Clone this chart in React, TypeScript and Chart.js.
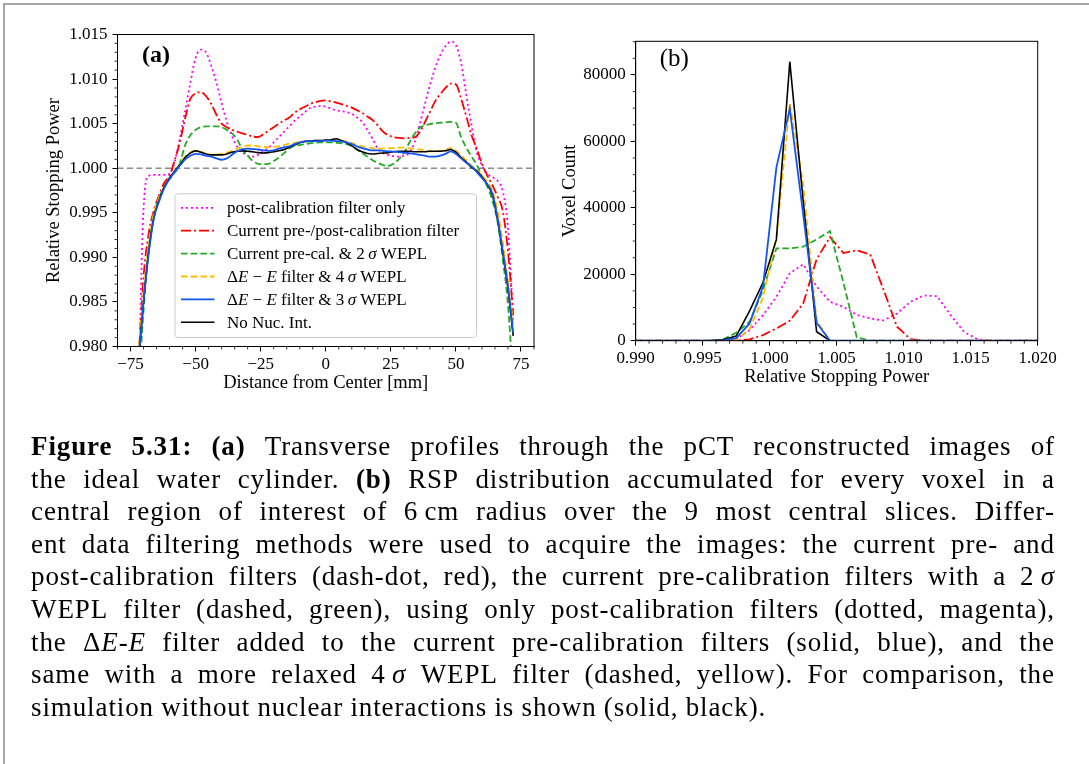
import React, { useEffect, useRef } from 'react';
import { Chart, registerables } from 'chart.js';

Chart.register(...registerables);

const SERIF = '"Liberation Serif", "Times New Roman", serif';
const CAPTION_FONT = '"Liberation Serif", "Times New Roman", serif';

// ---------- Panel (a): transverse RSP profiles ----------
const profileX = [
  -72, -70, -68, -66, -64, -62, -60, -58, -56, -54,
  -52, -50, -48, -46, -44, -42, -40, -38, -36, -34,
  -32, -30, -28, -26, -24, -22, -20, -18, -16, -14,
  -12, -10, -8, -6, -4, -2, 0, 2, 4, 6,
  8, 10, 12, 14, 16, 18, 20, 22, 24, 26,
  28, 30, 32, 34, 36, 38, 40, 42, 44, 46,
  48, 50, 52, 54, 56, 58, 60, 62, 64, 66,
  68, 70, 72,
];

const profilePostCalOnly = [
  0.974, 0.9955, 0.99915, 0.99925, 0.99925, 0.99925, 0.9994, 1.0008, 1.0034, 1.0065,
  1.0096, 1.0124, 1.0133, 1.013, 1.0115, 1.0096, 1.0073, 1.0052, 1.0036, 1.0024,
  1.0018, 1.0014, 1.0013, 1.0015, 1.0019, 1.0023, 1.0029, 1.0035, 1.0041, 1.0047,
  1.0053, 1.0058, 1.0063, 1.00675, 1.0069, 1.007, 1.0069, 1.0067, 1.0065, 1.0064,
  1.0063, 1.0061, 1.0057, 1.0052, 1.0043, 1.0033, 1.0022, 1.0017, 1.0015, 1.00135,
  1.0013, 1.0014, 1.0017, 1.0028, 1.0048, 1.0071, 1.0093, 1.0112, 1.0127, 1.0137,
  1.0142, 1.0138, 1.0118, 1.0082, 1.0048, 1.0018, 1.0003, 0.9994, 0.999, 0.9986,
  0.9974, 0.9934, 0.983,
];

const profilePrePostCal = [
  0.978, 0.9878, 0.9927, 0.9953, 0.997, 0.9984, 0.9992, 1.0009, 1.003, 1.0056,
  1.0078, 1.0084, 1.00855, 1.0081, 1.0072, 1.006, 1.005, 1.0046, 1.0043, 1.0041,
  1.0039, 1.00375, 1.00355, 1.0035, 1.0038, 1.0042, 1.0046, 1.005, 1.00535, 1.0057,
  1.0062, 1.0066, 1.0069, 1.0072, 1.0074, 1.00755, 1.0076, 1.0075, 1.00735, 1.0072,
  1.007, 1.0068, 1.0065, 1.0062, 1.0058, 1.0054, 1.0048, 1.0041, 1.0037, 1.0035,
  1.0034, 1.00335, 1.0034, 1.00345, 1.004, 1.0051, 1.0063, 1.0075, 1.0083, 1.009,
  1.0095, 1.0094, 1.0078, 1.0058, 1.0037, 1.0022, 1.0005, 0.9992, 0.9981, 0.9968,
  0.9952, 0.9907, 0.9835,
];

const profilePreCal2Sigma = [
  0.975, 0.984, 0.991, 0.9947, 0.9967, 0.9979, 0.9988, 0.9995, 1.0006, 1.0026,
  1.0037, 1.0043, 1.0046, 1.0047, 1.0047, 1.0047, 1.0046, 1.0043, 1.0039, 1.0032,
  1.0021, 1.0014, 1.0008, 1.0005, 1.00045, 1.0005, 1.0008, 1.0012, 1.0017, 1.0022,
  1.0025, 1.0026, 1.0027, 1.0028, 1.00285, 1.0029, 1.0029, 1.0029, 1.00285, 1.0028,
  1.0027, 1.0025, 1.0021, 1.0017, 1.0013, 1.0009, 1.0006, 1.00035, 1.00025, 1.0005,
  1.001, 1.0017, 1.0028, 1.0038, 1.0045, 1.0048, 1.00495, 1.00505, 1.0051, 1.00515,
  1.0052, 1.0051, 1.0035, 1.0023, 1.0013, 1.0004, 0.9991, 0.998, 0.9964, 0.994,
  0.9898, 0.9847, 0.976,
];

const profileDeltaE4Sigma = [
  0.979, 0.986, 0.9915, 0.995, 0.9967, 0.998, 0.9989, 0.9996, 1.0005, 1.0013,
  1.0018, 1.00195, 1.00185, 1.00165, 1.0015, 1.00155, 1.0016, 1.00175, 1.00195, 1.0022,
  1.0024, 1.00255, 1.00255, 1.00245, 1.0024, 1.00235, 1.0024, 1.00245, 1.0026, 1.00275,
  1.00285, 1.00295, 1.003, 1.00305, 1.0031, 1.0031, 1.0031, 1.00315, 1.0032, 1.0031,
  1.003, 1.00285, 1.0026, 1.00245, 1.00235, 1.00225, 1.0022, 1.0022, 1.00225, 1.00225,
  1.0023, 1.0023, 1.00225, 1.00215, 1.0021, 1.002, 1.0019, 1.0019, 1.00195, 1.00205,
  1.00225, 1.002, 1.0014, 1.0009, 1.0003, 0.9998, 0.9992, 0.9985, 0.9975, 0.9952,
  0.9917, 0.9874, 0.9825,
];

const profileDeltaE3Sigma = [
  0.978, 0.985, 0.9905, 0.9944, 0.9963, 0.9978, 0.9988, 0.9996, 1.0003, 1.001,
  1.0014, 1.0016, 1.00155, 1.0014, 1.0013, 1.0011, 1.00095, 1.0011, 1.0015, 1.0019,
  1.0021, 1.0022, 1.00215, 1.0021, 1.002, 1.00195, 1.002, 1.0022, 1.00235, 1.00245,
  1.0027, 1.0029, 1.003, 1.00305, 1.00305, 1.00305, 1.0031, 1.0031, 1.00305, 1.003,
  1.0029, 1.0027, 1.00245, 1.00225, 1.0021, 1.002, 1.002, 1.00195, 1.0019, 1.00185,
  1.0018, 1.00175, 1.0017, 1.0016, 1.0015, 1.0014, 1.0013, 1.0013, 1.0014, 1.0016,
  1.0019, 1.0016, 1.0011, 1.0006, 1.0002, 0.9996, 0.9989, 0.9982, 0.9972, 0.9944,
  0.9907, 0.9867, 0.9815,
];

const profileNoNuc = [
  0.978, 0.985, 0.9907, 0.9945, 0.9964, 0.9979, 0.9989, 0.9997, 1.0004, 1.0012,
  1.0017, 1.00195, 1.0018, 1.0016, 1.0015, 1.0015, 1.0015, 1.0016, 1.0018, 1.0019,
  1.00195, 1.0019, 1.00185, 1.00175, 1.0017, 1.00175, 1.00185, 1.00195, 1.0021, 1.00235,
  1.0026, 1.00285, 1.003, 1.00305, 1.0031, 1.0031, 1.00315, 1.0032, 1.0033, 1.0031,
  1.00285, 1.0025, 1.0021, 1.00185, 1.00165, 1.0016, 1.00165, 1.0017, 1.00175, 1.00185,
  1.0019, 1.0019, 1.0019, 1.00185, 1.00185, 1.00185, 1.0019, 1.0019, 1.0019, 1.00195,
  1.0021, 1.0018, 1.0012, 1.0007, 1.0001, 0.9997, 0.999, 0.9982, 0.997, 0.9942,
  0.9905, 0.9865, 0.9812,
];

const profileXTicks = [-75, -50, -25, 0, 25, 50, 75];
const profileYTicks = [0.98, 0.985, 0.99, 0.995, 1.0, 1.005, 1.01, 1.015];
const profileReference = 1.0;

// ---------- Panel (b): RSP histograms ----------
const rspBins = [
  0.99, 0.9905, 0.9915, 0.9925, 0.9935, 0.9945, 0.9955, 0.9965, 0.9975, 0.9985,
  0.9995, 1.0005, 1.0015, 1.0025, 1.0035, 1.0045, 1.0055, 1.0065, 1.0075, 1.0085,
  1.0095, 1.0105, 1.0115, 1.0125, 1.0135, 1.0145, 1.0155, 1.0165, 1.0175, 1.0185,
  1.0195, 1.02,
];

const countsPostCalOnly = [
  0, 0, 0, 0, 0, 0, 0, 0, 400, 3200,
  7700, 13200, 20300, 23000, 16300, 11700, 10200, 7800, 6700, 6100,
  8200, 11700, 13600, 13400, 7700, 2700, 400, 0, 0, 0,
  0, 0,
];

const countsPrePostCal = [
  0, 0, 0, 0, 0, 0, 0, 0, 0, 400,
  1700, 3700, 6000, 11200, 24500, 31200, 26400, 27200, 26000, 15300,
  4200, 500, 0, 0, 0, 0, 0, 0, 0, 0,
  0, 0,
];

const countsPreCal2Sigma = [
  0, 0, 0, 0, 0, 0, 0, 300, 2400, 5700,
  15300, 27800, 27800, 28300, 30500, 33000, 17500, 1000, 0, 0,
  0, 0, 0, 0, 0, 0, 0, 0, 0, 0,
  0, 0,
];

const countsDeltaE4Sigma = [
  0, 0, 0, 0, 0, 0, 0, 0, 200, 3500,
  13000, 31000, 71500, 47000, 6000, 0, 0, 0, 0, 0,
  0, 0, 0, 0, 0, 0, 0, 0, 0, 0,
  0, 0,
];

const countsDeltaE3Sigma = [
  0, 0, 0, 0, 0, 0, 0, 100, 800, 5200,
  16300, 52200, 69800, 38000, 5400, 0, 0, 0, 0, 0,
  0, 0, 0, 0, 0, 0, 0, 0, 0, 0,
  0, 0,
];

const countsNoNuc = [
  0, 0, 0, 0, 0, 0, 0, 300, 1400, 9000,
  17500, 30500, 84000, 42000, 2700, 0, 0, 0, 0, 0,
  0, 0, 0, 0, 0, 0, 0, 0, 0, 0,
  0, 0,
];

const histXTicks = [0.99, 0.995, 1.0, 1.005, 1.01, 1.015, 1.02];
const histYTicks = [0, 20000, 40000, 60000, 80000];

// ---------- Series appearance and legend ----------
type Seg = { t: string; i?: boolean };
type SeriesStyle = { color: string; dash: number[]; width: number; order: number; label: Seg[] };

const seriesStyles: SeriesStyle[] = [
  { color: '#ff00ff', dash: [2, 3], width: 1.8, order: 5, label: [{ t: 'post-calibration filter only' }] },
  { color: '#ff0000', dash: [10, 3, 2, 3], width: 1.8, order: 4, label: [{ t: 'Current pre-/post-calibration filter' }] },
  {
    color: '#22aa22', dash: [6.5, 3.2], width: 1.8, order: 3,
    label: [{ t: 'Current pre-cal. & 2\u2009' }, { t: '\u03c3', i: true }, { t: ' WEPL' }],
  },
  {
    color: '#ffbb00', dash: [6.5, 3.2], width: 1.8, order: 2,
    label: [{ t: '\u0394' }, { t: 'E', i: true }, { t: ' \u2212 ' }, { t: 'E', i: true }, { t: ' filter & 4\u2009' }, { t: '\u03c3', i: true }, { t: ' WEPL' }],
  },
  {
    color: '#1155ee', dash: [], width: 1.8, order: 0,
    label: [{ t: '\u0394' }, { t: 'E', i: true }, { t: ' \u2212 ' }, { t: 'E', i: true }, { t: ' filter & 3\u2009' }, { t: '\u03c3', i: true }, { t: ' WEPL' }],
  },
  { color: '#000000', dash: [], width: 1.6, order: 1, label: [{ t: 'No Nuc. Int.' }] },
];

const profileSeries = [
  profilePostCalOnly, profilePrePostCal, profilePreCal2Sigma,
  profileDeltaE4Sigma, profileDeltaE3Sigma, profileNoNuc,
];
const histSeries = [
  countsPostCalOnly, countsPrePostCal, countsPreCal2Sigma,
  countsDeltaE4Sigma, countsDeltaE3Sigma, countsNoNuc,
];

// Minor tick positions
function steps(from: number, to: number, step: number, skipEvery: number): number[] {
  const out: number[] = [];
  const n = Math.round((to - from) / step);
  for (let k = 0; k <= n; k++) {
    if (skipEvery > 0 && k % skipEvery === 0) continue;
    out.push(from + k * step);
  }
  return out;
}
const profileXMinor = steps(-80, 80, 5, 0).filter((v) => Math.abs(v) % 25 !== 0);
const profileYMinor = steps(0.98, 1.015, 0.001, 5);
const histXMinor = steps(0.99, 1.02, 0.001, 5);
const histYMinor = steps(0, 90000, 5000, 4);

const minus = (s: string) => s.replace('-', '\u2212');

function axis(opts: {
  min: number; max: number; ticks: number[]; fmt: (v: number) => string;
  title: string; size: number; tickPad: number;
}) {
  return {
    type: 'linear' as const,
    min: opts.min,
    max: opts.max,
    afterBuildTicks: (s: any) => {
      s.ticks = opts.ticks.map((v) => ({ value: v }));
    },
    afterFit: (s: any) => {
      if (s.isHorizontal()) s.height = opts.size;
      else s.width = opts.size;
    },
    ticks: {
      callback: (v: any) => opts.fmt(Number(v)),
      color: '#000',
      font: { family: SERIF, size: 17 },
      padding: opts.tickPad,
      autoSkip: false,
      maxRotation: 0,
      minRotation: 0,
    },
    grid: {
      display: true,
      drawOnChartArea: false,
      drawTicks: true,
      tickLength: 5,
      tickWidth: 1,
      tickColor: '#000',
    },
    border: { display: true, color: '#000', width: 1 },
    title: {
      display: true,
      text: opts.title,
      color: '#000',
      font: { family: SERIF, size: 18.5 },
      padding: { top: 4, bottom: 4 },
    },
  };
}

function framePlugin(xMinor: number[], yMinor: number[], panel: string, panelFont: string, dx: number, dy: number) {
  return {
    id: 'frame' + panel,
    afterDraw(chart: any) {
      const { ctx, chartArea: a } = chart;
      const xs = chart.scales.x;
      const ys = chart.scales.y;
      ctx.save();
      ctx.strokeStyle = '#000';
      ctx.lineWidth = 1;
      ctx.strokeRect(a.left, a.top, a.right - a.left, a.bottom - a.top);
      ctx.lineWidth = 0.8;
      ctx.beginPath();
      xMinor.forEach((v) => {
        const p = xs.getPixelForValue(v);
        ctx.moveTo(p, a.bottom);
        ctx.lineTo(p, a.bottom + 3);
      });
      yMinor.forEach((v) => {
        const p = ys.getPixelForValue(v);
        ctx.moveTo(a.left - 3, p);
        ctx.lineTo(a.left, p);
      });
      ctx.stroke();
      ctx.fillStyle = '#000';
      ctx.font = panelFont;
      ctx.textBaseline = 'alphabetic';
      ctx.textAlign = 'left';
      ctx.fillText(panel, a.left + dx, a.top + dy);
      ctx.restore();
    },
  };
}

const legendPlugin = {
  id: 'profileLegend',
  afterDraw(chart: any) {
    const { ctx, chartArea: a } = chart;
    const w = 301.5;
    const h = 143.7;
    const x0 = (a.left + a.right) / 2 - w / 2;
    const y0 = a.bottom - 9 - h;
    ctx.save();
    ctx.beginPath();
    ctx.roundRect(x0, y0, w, h, 3);
    ctx.fillStyle = 'rgba(255,255,255,0.8)';
    ctx.fill();
    ctx.strokeStyle = '#cccccc';
    ctx.lineWidth = 1;
    ctx.stroke();
    ctx.textBaseline = 'middle';
    ctx.textAlign = 'left';
    seriesStyles.forEach((s, k) => {
      const y = y0 + 14 + k * 22.9;
      ctx.beginPath();
      ctx.setLineDash(s.dash);
      ctx.strokeStyle = s.color;
      ctx.lineWidth = s.width;
      ctx.moveTo(x0 + 6, y);
      ctx.lineTo(x0 + 39.5, y);
      ctx.stroke();
      ctx.setLineDash([]);
      let x = x0 + 52;
      ctx.fillStyle = '#000';
      s.label.forEach((seg) => {
        ctx.font = `${seg.i ? 'italic ' : ''}17px ${SERIF}`;
        ctx.fillText(seg.t, x, y + 1);
        x += ctx.measureText(seg.t).width;
      });
    });
    ctx.restore();
  },
};

function ProfileChart() {
  const ref = useRef<HTMLCanvasElement | null>(null);
  useEffect(() => {
    if (!ref.current) return;
    const datasets: any[] = seriesStyles.map((s, k) => ({
      data: profileX.map((x, i) => ({ x, y: profileSeries[k][i] })),
      borderColor: s.color,
      borderDash: s.dash,
      borderWidth: s.width,
      order: s.order,
      pointRadius: 0,
      fill: false,
      cubicInterpolationMode: 'monotone',
    }));
    datasets.push({
      data: [
        { x: -80, y: profileReference },
        { x: 80, y: profileReference },
      ],
      borderColor: '#8c8c8c',
      borderDash: [6, 3.5],
      borderWidth: 1.5,
      order: 9,
      pointRadius: 0,
      fill: false,
    });
    const chart = new Chart(ref.current, {
      type: 'line',
      data: { datasets },
      options: {
        animation: false,
        responsive: false,
        events: [],
        layout: { padding: { left: 39, right: 11, top: 34.5, bottom: 1.9 } },
        plugins: { legend: { display: false }, tooltip: { enabled: false } },
        scales: {
          x: axis({
            min: -80, max: 80, ticks: profileXTicks, fmt: (v) => minus(String(v)),
            title: 'Distance from Center [mm]', size: 51.6, tickPad: 3,
          }) as any,
          y: axis({
            min: 0.98, max: 1.015, ticks: profileYTicks, fmt: (v) => v.toFixed(3),
            title: 'Relative Stopping Power', size: 78.5, tickPad: 5,
          }) as any,
        },
      },
      plugins: [
        framePlugin(profileXMinor, profileYMinor, '(a)', `bold 24px ${SERIF}`, 24.5, 27.5),
        legendPlugin,
      ],
    });
    return () => chart.destroy();
  }, []);
  return <canvas ref={ref} width={545} height={400} style={{ display: 'block', width: 545, height: 400 }} />;
}

function HistogramChart() {
  const ref = useRef<HTMLCanvasElement | null>(null);
  useEffect(() => {
    if (!ref.current) return;
    const datasets: any[] = seriesStyles.map((s, k) => ({
      data: rspBins.map((x, i) => ({ x, y: histSeries[k][i] })),
      borderColor: s.color,
      borderDash: s.dash,
      borderWidth: s.width,
      order: s.order,
      pointRadius: 0,
      fill: false,
      tension: 0,
    }));
    const chart = new Chart(ref.current, {
      type: 'line',
      data: { datasets },
      options: {
        animation: false,
        responsive: false,
        events: [],
        layout: { padding: { left: 9.7, right: 51.3, top: 41.3, bottom: 8.2 } },
        plugins: { legend: { display: false }, tooltip: { enabled: false } },
        scales: {
          x: axis({
            min: 0.99, max: 1.02, ticks: histXTicks, fmt: (v) => v.toFixed(3),
            title: 'Relative Stopping Power', size: 51.1, tickPad: 3,
          }) as any,
          y: axis({
            min: 0, max: 90140, ticks: histYTicks, fmt: (v) => String(Math.round(v)),
            title: 'Voxel Count', size: 81, tickPad: 5,
          }) as any,
        },
      },
      plugins: [framePlugin(histXMinor, histYMinor, '(b)', `25px ${SERIF}`, 24, 25)],
    });
    return () => chart.destroy();
  }, []);
  return <canvas ref={ref} width={544} height={400} style={{ display: 'block', width: 544, height: 400 }} />;
}

// ---------- Caption ----------
const captionLines = [
  '**Figure 5.31:** **(a)** Transverse profiles through the pCT reconstructed images of',
  'the ideal water cylinder. **(b)** RSP distribution accumulated for every voxel in a',
  'central region of interest of 6\u2009cm radius over the 9 most central slices. Differ-',
  'ent data filtering methods were used to acquire the images: the current pre- and',
  'post-calibration filters (dash-dot, red), the current pre-calibration filters with a 2\u2009_\u03c3_',
  'WEPL filter (dashed, green), using only post-calibration filters (dotted, magenta),',
  'the \u0394_E_-_E_ filter added to the current pre-calibration filters (solid, blue), and the',
  'same with a more relaxed 4\u2009_\u03c3_ WEPL filter (dashed, yellow). For comparison, the',
  'simulation without nuclear interactions is shown (solid, black).',
];

type Run = { t: string; b: boolean; i: boolean };

function parseWords(line: string): Run[][] {
  const runs: Run[] = [];
  let b = false;
  let it = false;
  let buf = '';
  for (let k = 0; k < line.length; k++) {
    if (line.startsWith('**', k)) {
      if (buf) runs.push({ t: buf, b, i: it });
      buf = '';
      b = !b;
      k++;
      continue;
    }
    if (line[k] === '_') {
      if (buf) runs.push({ t: buf, b, i: it });
      buf = '';
      it = !it;
      continue;
    }
    buf += line[k];
  }
  if (buf) runs.push({ t: buf, b, i: it });
  const words: Run[][] = [[]];
  runs.forEach((r) => {
    r.t.split(' ').forEach((part, idx) => {
      if (idx > 0) words.push([]);
      if (part) words[words.length - 1].push({ ...r, t: part });
    });
  });
  return words.filter((w) => w.length > 0);
}

function Caption() {
  const left = 31;
  const width = 1024;
  const top0 = 431;
  const step = 32.6;
  return (
    <>
      {captionLines.map((line, li) => {
        const last = li === captionLines.length - 1;
        const words = parseWords(line);
        return (
          <div
            key={li}
            style={{
              position: 'absolute',
              left,
              top: top0 + li * step,
              width,
              height: 30,
              display: 'flex',
              justifyContent: last ? 'flex-start' : 'space-between',
              gap: last ? '0.27em' : 0,
              fontFamily: CAPTION_FONT,
              fontSize: 27,
              lineHeight: '30px',
              letterSpacing: '0.9px',
              color: '#000',
              whiteSpace: 'nowrap',
            }}
          >
            {words.map((w, wi) => (
              <span key={wi} style={{ flex: '0 0 auto' }}>
                {w.map((r, ri) => (
                  <span key={ri} style={{ fontWeight: r.b ? 'bold' : 'normal', fontStyle: r.i ? 'italic' : 'normal' }}>
                    {r.t}
                  </span>
                ))}
              </span>
            ))}
          </div>
        );
      })}
    </>
  );
}

export default function App() {
  return (
    <div
      style={{
        position: 'absolute',
        left: 0,
        top: 0,
        width: 1089,
        height: 764,
        overflow: 'hidden',
        background: '#ffffff',
      }}
    >
      <div style={{ position: 'absolute', left: 0, top: 0 }}>
        <ProfileChart />
      </div>
      <div style={{ position: 'absolute', left: 545, top: 0 }}>
        <HistogramChart />
      </div>
      <div
        style={{
          position: 'absolute',
          left: 3,
          top: 3,
          width: 1200,
          height: 900,
          borderTop: '2px solid #a6a6a6',
          borderLeft: '2px solid #a6a6a6',
          pointerEvents: 'none',
        }}
      />
      <Caption />
    </div>
  );
}
